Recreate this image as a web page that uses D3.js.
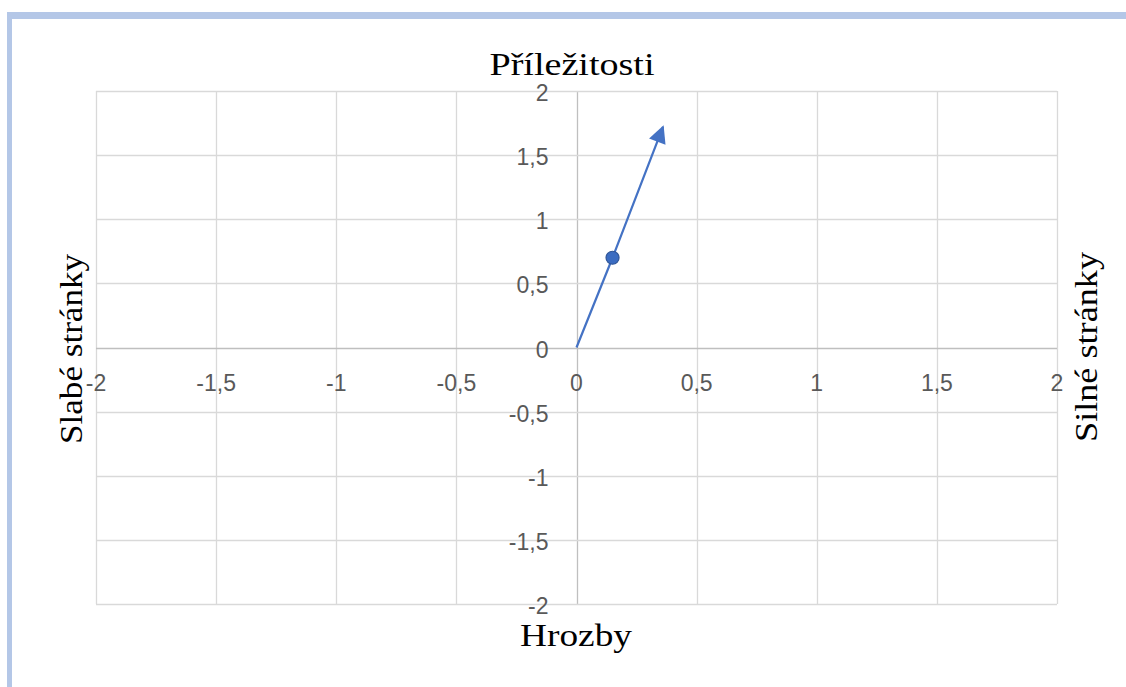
<!DOCTYPE html>
<html>
<head>
<meta charset="utf-8">
<script src="https://cdn.jsdelivr.net/npm/d3@7"></script>
<style>
html,body{margin:0;padding:0;background:#fff;}
svg{display:block;}
</style>
</head>
<body>
<svg id="chart" width="1126" height="687"></svg>
<script>
// Data
const xTicks = [-2, -1.5, -1, -0.5, 0, 0.5, 1, 1.5, 2];
const yTicks = [-2, -1.5, -1, -0.5, 0, 0.5, 1, 1.5, 2];
const arrowX = [0, 0.15, 0.36];
const arrowY = [0, 0.70, 1.72];
const markerX = [0.15];
const markerY = [0.70];
const titleTop = "Příležitosti";
const titleBottom = "Hrozby";
const titleLeft = "Slabé stránky";
const titleRight = "Silné stránky";

const svg = d3.select("#chart");
const fmt = v => String(v).replace(".", ",");

// Frame (blue border)
svg.append("rect").attr("x", 7).attr("y", 12).attr("width", 1126 - 7).attr("height", 7).attr("fill", "#b4c7e7");
svg.append("rect").attr("x", 7).attr("y", 12).attr("width", 5).attr("height", 687 - 12).attr("fill", "#b4c7e7");

const L = 96, R = 1057, T = 91, B = 604;
const x = d3.scaleLinear().domain([-2, 2]).range([L, R]);
const y = d3.scaleLinear().domain([-2, 2]).range([B, T]);

// Gridlines
const g = svg.append("g");
g.selectAll(".vg").data(xTicks).enter().append("line")
  .attr("x1", d => Math.round(x(d)) + 0.5).attr("x2", d => Math.round(x(d)) + 0.5)
  .attr("y1", T).attr("y2", B)
  .attr("stroke", d => d === 0 ? "#bfbfbf" : "#d9d9d9").attr("stroke-width", 1.3);
g.selectAll(".hg").data(yTicks).enter().append("line")
  .attr("y1", d => Math.round(y(d)) + 0.5).attr("y2", d => Math.round(y(d)) + 0.5)
  .attr("x1", L).attr("x2", R)
  .attr("stroke", d => d === 0 ? "#bfbfbf" : "#d9d9d9").attr("stroke-width", 1.3);

// Tick labels
const tickFont = "'Liberation Sans', Arial, sans-serif";
svg.append("g").selectAll("text").data(xTicks).enter().append("text")
  .attr("x", d => x(d)).attr("y", y(0) + 35)
  .attr("text-anchor", "middle").attr("dominant-baseline", "central")
  .attr("font-family", tickFont).attr("font-size", 23).attr("fill", "#595959")
  .text(fmt);
svg.append("g").selectAll("text").data(yTicks).enter().append("text")
  .attr("x", x(0) - 28).attr("y", d => y(d) + 2)
  .attr("text-anchor", "end").attr("dominant-baseline", "central")
  .attr("font-family", tickFont).attr("font-size", 23).attr("fill", "#595959")
  .text(fmt);

// Axis titles
const serif = "'Liberation Serif', 'Times New Roman', serif";
svg.append("text").attr("x", 572).attr("y", 75).attr("text-anchor", "middle")
  .attr("font-family", serif).attr("font-size", 32).attr("fill", "#000")
  .attr("textLength", 165).attr("lengthAdjust", "spacingAndGlyphs").text(titleTop);
svg.append("text").attr("x", 576).attr("y", 646).attr("text-anchor", "middle")
  .attr("font-family", serif).attr("font-size", 31).attr("fill", "#000")
  .attr("textLength", 112).attr("lengthAdjust", "spacingAndGlyphs").text(titleBottom);
svg.append("text").attr("transform", "translate(82,349) rotate(-90)").attr("text-anchor", "middle")
  .attr("font-family", serif).attr("font-size", 32).attr("fill", "#000")
  .attr("textLength", 190).attr("lengthAdjust", "spacingAndGlyphs").text(titleLeft);
svg.append("text").attr("transform", "translate(1097,347) rotate(-90)").attr("text-anchor", "middle")
  .attr("font-family", serif).attr("font-size", 32).attr("fill", "#000")
  .attr("textLength", 190).attr("lengthAdjust", "spacingAndGlyphs").text(titleRight);

// Arrow series
svg.append("defs").append("marker")
  .attr("id", "arrowhead").attr("viewBox", "0 0 10 10")
  .attr("refX", 9).attr("refY", 5)
  .attr("markerWidth", 8.5).attr("markerHeight", 8)
  .attr("markerUnits", "strokeWidth")
  .attr("orient", "auto")
  .append("path").attr("d", "M0,0 L10,5 L0,10 Z").attr("fill", "#4472c4");

const pts = arrowX.map((d, i) => [x(d), y(arrowY[i])]);
svg.append("path").attr("d", d3.line()(pts))
  .attr("fill", "none").attr("stroke", "#4472c4").attr("stroke-width", 2.2)
  .attr("marker-end", "url(#arrowhead)");

// Marker
svg.append("g").selectAll("circle").data(markerX).enter().append("circle")
  .attr("cx", d => x(d)).attr("cy", (d, i) => y(markerY[i])).attr("r", 6.5)
  .attr("fill", "#3b6cc1").attr("stroke", "#2f5597").attr("stroke-width", 1.2);
</script>
</body>
</html>
